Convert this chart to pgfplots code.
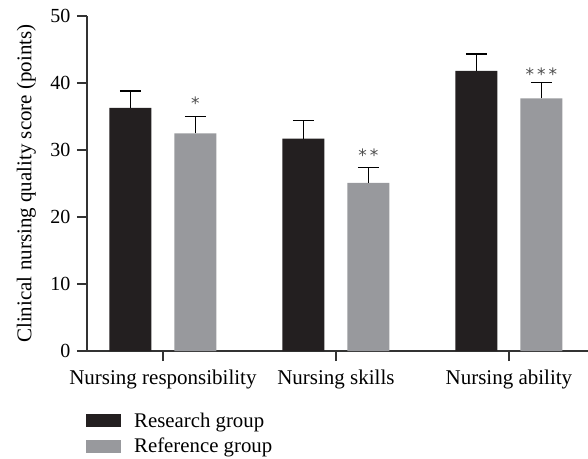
\documentclass[border=0pt]{standalone}
\usepackage{pgfplots}
\pgfplotsset{compat=1.18}
\usepackage{fontspec}
\setmainfont{Liberation Serif}
\newfontfamily\starfont{DejaVu Sans}
\definecolor{resblack}{HTML}{231F20}
\definecolor{refgray}{HTML}{98999D}
\definecolor{axisgray}{HTML}{333333}
\definecolor{stargray}{HTML}{4D4D4D}

% mean score and SD per dimension (x: 0 responsibility, 1 skills, 2 ability)
\pgfplotstableread{
x y e
0 36.3 2.5
1 31.7 2.7
2 41.8 2.5
}\research
\pgfplotstableread{
x y e
0 32.5 2.5
1 25.1 2.3
2 37.7 2.4
}\reference

\pgfplotsset{
  boxlegend/.style={legend image code/.code={\fill[##1] (0bp,-6.5bp) rectangle (35bp,6.5bp);}},
}

\begin{document}
\begin{tikzpicture}
\begin{axis}[
  scale only axis, width=501bp, height=335bp,
  at={(0,0)}, anchor=south west,
  xmin=-0.439, xmax=2.457, ymin=0, ymax=50,
  axis x line*=bottom, axis y line*=left,
  axis line style={-, color=axisgray, line width=1.2bp},
  ytick={0,10,...,50}, xtick={0,1,2},
  xticklabels={Nursing responsibility, Nursing skills, Nursing ability},
  tick align=outside, major tick length=10bp, minor tick num=0,
  tick style={color=axisgray, line width=1.2bp},
  /pgf/number format/assume math mode=true,
  yticklabel style={font=\fontsize{20bp}{22bp}\selectfont, xshift=-3bp},
  xticklabel style={font=\fontsize{21bp}{24bp}\selectfont, yshift=-5bp},
  ylabel={Clinical nursing quality score (points)},
  every axis y label/.style={at={(axis description cs:-0.1018,0.5)}, rotate=90,
    anchor=south, inner sep=0pt, font=\fontsize{21bp}{24bp}\selectfont},
  ybar=23bp, bar width=42bp,
  error bars/y dir=plus, error bars/y explicit,
  error bars/error mark=|,
  error bars/error bar style={draw=black, line width=1.3bp},
  error bars/error mark options={draw=black, line width=1.5bp, mark size=10.5bp},
  legend style={draw=none, fill=none, at={(axis description cs:0,0)}, anchor=north west,
    xshift=-1bp, yshift=-61.5bp, font=\fontsize{20.8bp}{24bp}\selectfont,
    row sep=9.5bp, column sep=13bp, inner sep=0pt, nodes={inner sep=0pt}},
  legend cell align=left,
]
\addplot[fill=resblack, draw=none, boxlegend] table[x=x, y=y, y error=e] {\research};
\addplot[fill=refgray, draw=none, boxlegend] table[x=x, y=y, y error=e] {\reference};
\legend{Research group, Reference group}

% significance markers above the reference-group bars
\begin{scope}[every node/.style={font=\starfont\fontsize{17bp}{17bp}\selectfont, text=stargray, xshift=32.5bp}]
\node at (axis cs:0,37.0) {*};
\node at (axis cs:1,29.2) {*\hspace{3bp}*};
\node at (axis cs:2,41.3) {*\hspace{3bp}*\hspace{3bp}*};
\end{scope}
\end{axis}
\pgfresetboundingbox
\useasboundingbox (-87bp,-108bp) rectangle (501bp,351bp);
\end{tikzpicture}
\end{document}
